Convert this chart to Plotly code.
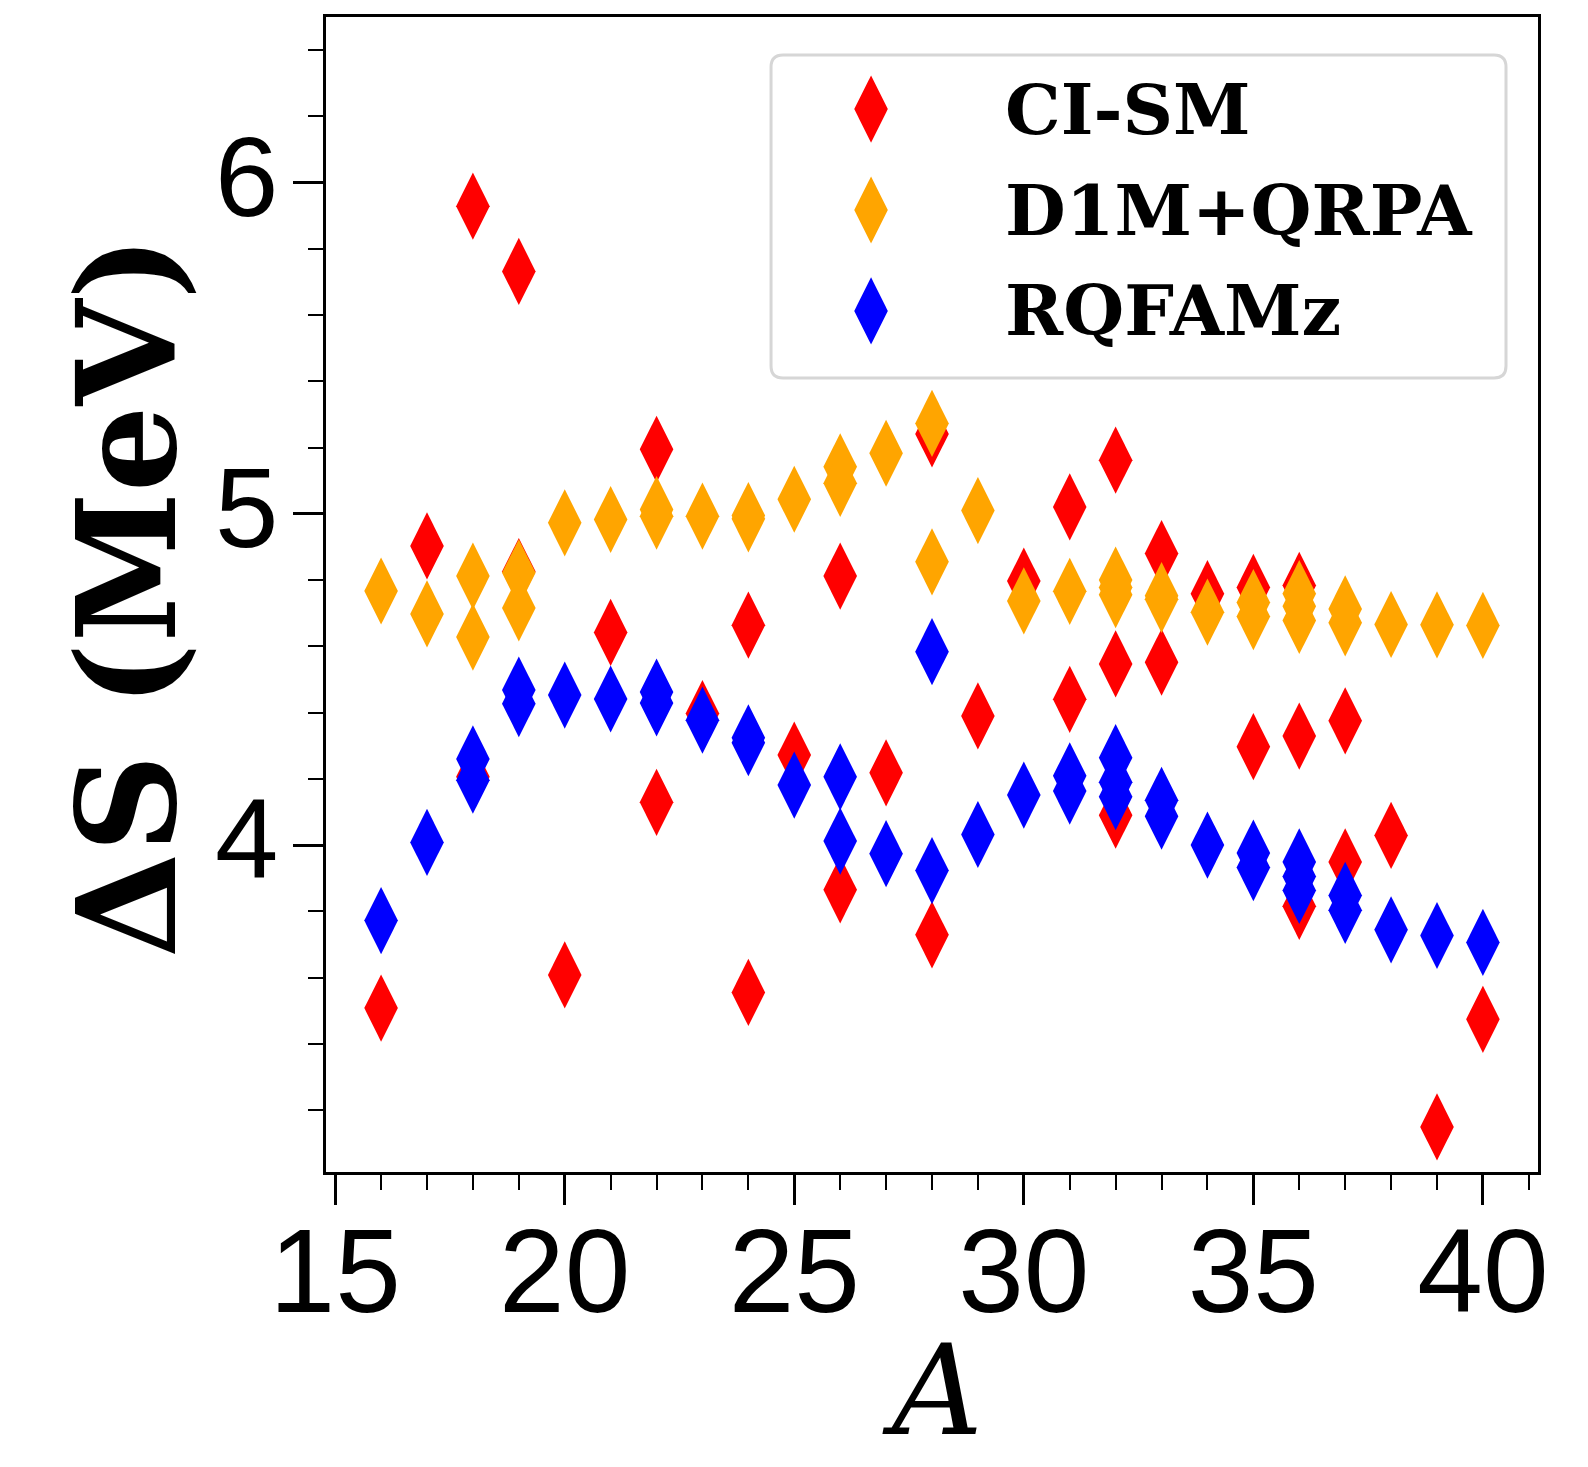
import plotly.graph_objects as go

# Mass number A and splitting Delta S (MeV) for each model
A_cism = [16, 17, 18, 18, 19, 19, 20, 21, 22, 22, 23, 24, 24, 25, 26, 26, 27, 28, 28,
          29, 30, 31, 31, 32, 32, 32, 33, 33, 34, 35, 35, 36, 36, 36, 37, 37, 38, 39, 40]
dS_cism = [3.508, 4.903, 5.929, 4.206, 5.732, 4.826, 3.608, 4.642, 5.195, 4.129, 4.397,
           4.664, 3.555, 4.272, 4.812, 3.865, 4.218, 5.241, 3.729, 4.390, 4.797, 5.021,
           4.440, 5.162, 4.547, 4.090, 4.880, 4.552, 4.759, 4.778, 4.297, 4.784, 4.329,
           3.815, 4.375, 3.949, 4.029, 3.149, 3.474]

A_d1m = [16, 17, 18, 18, 19, 19, 20, 21, 22, 22, 23, 24, 24, 25, 26, 26, 27, 28, 28,
         29, 30, 31, 32, 32, 32, 33, 33, 34, 35, 35, 36, 36, 36, 37, 37, 38, 39, 40]
dS_d1m = [4.767, 4.698, 4.812, 4.628, 4.822, 4.716, 4.973, 4.983, 5.013, 4.993, 4.993,
          4.995, 4.985, 5.044, 5.142, 5.092, 5.183, 5.273, 4.855, 5.010, 4.737, 4.766,
          4.800, 4.778, 4.756, 4.753, 4.742, 4.703, 4.732, 4.690, 4.759, 4.721, 4.678,
          4.713, 4.671, 4.666, 4.665, 4.663]

A_rqfam = [16, 17, 18, 18, 19, 19, 20, 21, 22, 22, 23, 24, 24, 25, 26, 26, 27, 28, 28,
           29, 30, 31, 31, 32, 32, 32, 33, 33, 34, 35, 35, 36, 36, 36, 37, 37, 38, 39, 40]
dS_rqfam = [3.772, 4.008, 4.260, 4.196, 4.468, 4.427, 4.453, 4.441, 4.462, 4.429, 4.377,
            4.324, 4.309, 4.181, 4.206, 4.012, 3.974, 4.584, 3.923, 4.032, 4.151, 4.209,
            4.163, 4.264, 4.190, 4.146, 4.135, 4.087, 4.000, 3.976, 3.932, 3.949, 3.905,
            3.863, 3.848, 3.803, 3.744, 3.727, 3.706]

series_names = ["CI-SM", "D1M+QRPA", "RQFAMz"]
series_colors = ["#ff0000", "#ffa500", "#0000ff"]
x_ticks = [15, 20, 25, 30, 35, 40]
y_ticks = [4, 5, 6]

MARKER_SIZE = 48
SERIF = "DejaVu Serif"
SANS = "Liberation Sans"

fig = go.Figure()
for xs, ys, name, col in zip([A_cism, A_d1m, A_rqfam], [dS_cism, dS_d1m, dS_rqfam],
                             series_names, series_colors):
    fig.add_trace(go.Scatter(
        x=xs, y=ys, mode="markers", name=name, showlegend=False,
        marker=dict(symbol="diamond-tall", size=MARKER_SIZE, color=col,
                    line=dict(width=0)),
    ))

# Legend keys drawn on an overlay axis spanning the plot area in [0, 1]
key_x = 0.4497
key_y = [0.9203, 0.8329, 0.7455]
fig.add_trace(go.Scatter(
    x=[key_x] * 3, y=key_y, mode="markers", xaxis="x2", yaxis="y2", showlegend=False,
    hoverinfo="skip",
    marker=dict(symbol="diamond-tall", size=MARKER_SIZE, color=series_colors,
                line=dict(width=0)),
))
for name, yy in zip(series_names, key_y):
    fig.add_annotation(
        x=0.5586, y=yy, xref="paper", yref="paper", xanchor="left", yanchor="middle",
        text=name, showarrow=False,
        font=dict(family=SERIF, size=70, color="black", weight="bold"),
    )

# Rounded legend frame
x0, x1, y0, y1 = 0.3672, 0.9736, 0.6874, 0.9671
rx, ry = 0.0099, 0.0104
frame = (f"M{x0 + rx},{y1} L{x1 - rx},{y1} Q{x1},{y1} {x1},{y1 - ry} "
         f"L{x1},{y0 + ry} Q{x1},{y0} {x1 - rx},{y0} L{x0 + rx},{y0} "
         f"Q{x0},{y0} {x0},{y0 + ry} L{x0},{y1 - ry} Q{x0},{y1} {x0 + rx},{y1} Z")
fig.add_shape(type="path", path=frame, xref="paper", yref="paper",
              line=dict(color="#d6d6d6", width=3), fillcolor="white", layer="below")

# Axis titles
fig.add_annotation(
    x=0.5, y=-0.2545, xref="paper", yref="paper", xanchor="center", yanchor="bottom",
    text="A", showarrow=False,
    font=dict(family=SERIF, size=126, style="italic", color="black"),
)
fig.add_annotation(
    x=-0.164, y=0.498, xref="paper", yref="paper", xanchor="center", yanchor="middle",
    text="ΔS (MeV)", showarrow=False, textangle=-90,
    font=dict(family=SERIF, size=136, weight="bold", color="black"),
)

axis_common = dict(
    showline=True, mirror=True, linecolor="black", linewidth=2.5,
    showgrid=False, zeroline=False, automargin=False,
    ticks="outside", ticklen=30, tickwidth=2.5, tickcolor="black",
)

fig.update_layout(
    width=1588, height=1467,
    margin=dict(l=326, r=50, t=17, b=295),
    plot_bgcolor="white", paper_bgcolor="white",
    showlegend=False,
    xaxis=dict(
        **axis_common,
        range=[14.8, 41.2], tickvals=x_ticks, ticktext=[str(v) for v in x_ticks],
        tickfont=dict(family="Liberation Sans Narrow, " + SANS, size=118, color="black"),
        ticklabelstandoff=-34,
        minor=dict(dtick=1, tick0=15, ticks="outside", ticklen=15, tickwidth=2,
                   tickcolor="black", showgrid=False),
    ),
    yaxis=dict(
        **axis_common,
        range=[3.013, 6.5], tickvals=y_ticks, ticktext=[str(v) for v in y_ticks],
        tickfont=dict(family=SANS, size=114, color="black"),
        ticklabelstandoff=-8, ticklabelshift=-7,
        minor=dict(dtick=0.2, tick0=0, ticks="outside", ticklen=15, tickwidth=2,
                   tickcolor="black", showgrid=False),
    ),
    xaxis2=dict(overlaying="x", anchor="y2", range=[0, 1], visible=False),
    yaxis2=dict(overlaying="y", anchor="x2", range=[0, 1], visible=False),
)

fig.write_html("out.html")
